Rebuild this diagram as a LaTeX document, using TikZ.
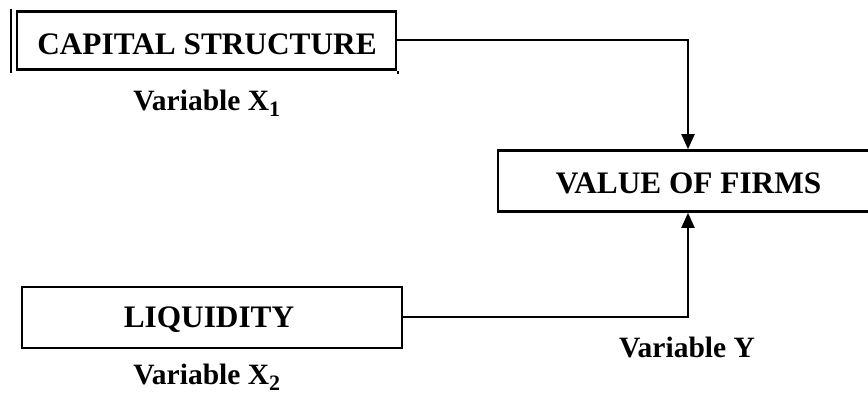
\documentclass[tikz,border=0pt]{standalone}
\usepackage{fontspec}
\setmainfont{Liberation Serif}
\usetikzlibrary{arrows.meta}
\tikzset{
  boxnode/.style={draw=black, line width=2.6pt, inner sep=0pt},
  boxtext/.style={inner sep=0pt, font=\bfseries\fontsize{31.3}{35}\selectfont},
  lbl/.style={inner sep=0pt, font=\bfseries\fontsize{29.5}{33}\selectfont},
  conn/.style={line width=2pt, draw=black},
  tip/.style={-{Triangle[width=13pt,length=15pt]}}
}
\begin{document}
\begin{tikzpicture}[x=1pt,y=-1pt]
\useasboundingbox (0,0) rectangle (868,395);
\clip (0,0) rectangle (868,395);
\fill[white] (0,0) rectangle (868,395);
\node[boxnode, minimum width=379pt, minimum height=58pt] (cs) at (206.5,40.5) {};
\node[boxtext] (cst) at (207,44) {CAPITAL STRUCTURE};
\draw[line width=2.4pt] ([xshift=-5pt,yshift=1pt]cs.north west) -- ([xshift=-5pt,yshift=-2pt]cs.south west);
\draw[line width=2.2pt] ([xshift=1pt]cs.south east) -- ([xshift=1pt,yshift=-3pt]cs.south east);
\node[lbl] (x1) at (207,103) {Variable X\textsubscript{\fontsize{22}{24}\selectfont 1}};
\node[boxnode, minimum width=380pt, minimum height=61pt] (vf) at (688,181) {};
\node[boxtext] (vft) at (688.5,183) {VALUE OF FIRMS};
\node[boxnode, minimum width=380pt, minimum height=61pt] (lq) at (212,317.5) {};
\node[boxtext] (lqt) at (209,320) {LIQUIDITY};
\node[lbl] (x2) at (207,377) {Variable X\textsubscript{\fontsize{22}{24}\selectfont 2}};
\node[lbl] (vy) at (687,347) {Variable Y};
\draw[conn, tip] (cs.east) -| (vf.north);
\draw[conn, tip] (lq.east) -| (vf.south);
\end{tikzpicture}
\end{document}
